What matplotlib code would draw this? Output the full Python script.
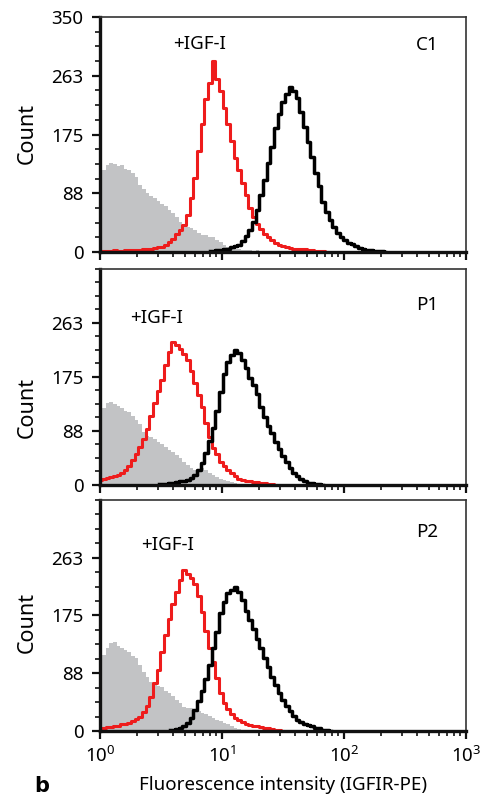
import numpy as np
import matplotlib
matplotlib.use("Agg")
import matplotlib.pyplot as plt
from matplotlib.ticker import FixedLocator, LogLocator, NullFormatter

plt.rcParams['font.family'] = ['Noto Sans', 'DejaVu Sans']

# histogram channels are spaced evenly on the log axis
STEP = 0.03  # decades per channel

# ---- C1 ----
c1_gray = [110, 122, 130, 133, 131, 128, 130, 124, 122, 118, 112, 100, 94, 88, 83, 80,
           76, 72, 68, 63, 58, 52, 44, 40, 37, 36, 33, 28, 26, 25, 23, 22, 18, 15, 10, 7,
           5, 4, 4, 3, 3, 3, 2, 3, 2, 1, 0]
c1_red = [2, 2, 2, 2, 3, 2, 2, 3, 3, 3, 3, 3, 4, 4, 5, 6, 7, 8, 11, 15, 20, 27, 33, 41,
          55, 80, 110, 150, 190, 228, 252, 285, 258, 240, 214, 190, 166, 140, 122, 103,
          85, 65, 52, 42, 34, 27, 22, 18, 14, 11, 9, 7, 6, 5, 5, 4, 4, 3, 3, 2, 2, 1, 0]
c1_black_start = 30
c1_black = [1, 2, 3, 3, 4, 5, 7, 9, 11, 16, 24, 33, 45, 62, 85, 108, 132, 157, 185, 205,
            224, 236, 246, 240, 230, 208, 186, 164, 142, 118, 98, 74, 60, 47, 38, 29, 22,
            18, 14, 12, 9, 6, 5, 3, 3, 2, 2, 1, 0]

# ---- P1 ----
p1_gray = [115, 125, 133, 135, 131, 128, 124, 120, 118, 112, 106, 98, 86, 80, 77, 74,
           70, 66, 62, 57, 53, 48, 43, 38, 33, 27, 24, 25, 27, 25, 20, 16, 13, 10, 8, 6,
           5, 3, 2, 2, 1, 0]
p1_red = [8, 10, 11, 13, 15, 16, 20, 25, 30, 40, 50, 62, 75, 90, 112, 133, 152, 170, 195,
          215, 232, 226, 220, 212, 203, 185, 165, 145, 126, 100, 78, 60, 50, 38, 30, 24,
          19, 14, 10, 8, 7, 6, 5, 5, 4, 3, 2, 1, 0]
p1_black_start = 16
p1_black = [1, 2, 2, 3, 4, 5, 6, 7, 8, 12, 16, 24, 36, 52, 72, 92, 120, 150, 180, 200,
            211, 219, 214, 203, 190, 174, 162, 147, 126, 110, 96, 84, 70, 58, 47, 37, 27,
            20, 14, 9, 6, 4, 3, 2, 1, 0]

# ---- P2 ----
p2_gray = [105, 115, 126, 133, 135, 128, 125, 122, 120, 114, 110, 100, 90, 82, 74, 69,
           68, 66, 61, 57, 53, 47, 42, 37, 35, 35, 34, 30, 27, 26, 23, 20, 17, 15, 12, 10,
           8, 5, 3, 2, 1, 0]
p2_red = [4, 5, 6, 6, 7, 8, 10, 11, 12, 15, 18, 21, 28, 38, 52, 72, 92, 120, 146, 170,
          192, 210, 228, 244, 238, 232, 222, 205, 180, 152, 126, 104, 80, 58, 43, 33, 25,
          20, 16, 13, 11, 9, 8, 7, 6, 5, 4, 3, 2, 1, 0]
p2_black_start = 19
p2_black = [1, 2, 3, 5, 8, 12, 20, 32, 46, 60, 78, 100, 125, 150, 178, 196, 209, 214, 218,
            210, 198, 182, 168, 155, 140, 125, 110, 97, 82, 70, 58, 47, 38, 30, 22, 17, 14,
            11, 9, 7, 5, 4, 2, 1, 0]

panel_names = ["C1", "P1", "P2"]
gray_sets = [c1_gray, p1_gray, p2_gray]
red_sets = [c1_red, p1_red, p2_red]
black_sets = [c1_black, p1_black, p2_black]
black_starts = [c1_black_start, p1_black_start, p2_black_start]

y_ticks = [0, 87.5, 175, 262.5, 350]
y_ticklabels = ["0", "88", "175", "263", "350"]

# label positions (data coords) per panel
igf_pos = [(6.5, 310), (2.93, 271), (3.6, 282)]
name_pos = [(479, 308), (479, 292), (479, 301)]
count_y = [0.506, 0.36, 0.47]

# axes boxes in figure fractions (left, bottom, width, height)
boxes = [(0.2062, 0.6873, 0.7546, 0.2916),
         (0.2062, 0.3983, 0.7546, 0.2680),
         (0.2062, 0.0931, 0.7546, 0.2866)]

FS = 13.5


def channels(start, n):
    return 10 ** (STEP * (start + np.arange(n)))


fig = plt.figure(figsize=(4.85, 8.06), dpi=100)

for i in range(3):
    ax = fig.add_axes(boxes[i])
    g = np.array(gray_sets[i], dtype=float)
    xg = channels(0, len(g))
    ax.fill_between(xg, g, step='mid', color='#c2c3c5', lw=0)

    r = np.array(red_sets[i], dtype=float)
    ax.step(channels(0, len(r)), r, where='mid', color='#ee1c1c', lw=2.2)

    b = np.array(black_sets[i], dtype=float)
    ax.step(channels(black_starts[i], len(b)), b, where='mid', color='black', lw=2.5)

    ax.set_xscale('log')
    ax.set_xlim(1, 1000)
    ax.set_ylim(0, 350)

    if i == 0:
        ax.yaxis.set_major_locator(FixedLocator(y_ticks))
        ax.set_yticklabels(y_ticklabels)
    else:
        ax.yaxis.set_major_locator(FixedLocator(y_ticks[:-1]))
        ax.set_yticklabels(y_ticklabels[:-1])
    ax.yaxis.set_minor_locator(FixedLocator(np.arange(0, 351, 350 / 16)))

    ax.xaxis.set_major_locator(LogLocator(base=10, numticks=10))
    ax.xaxis.set_minor_locator(LogLocator(base=10, subs=np.arange(2, 10), numticks=20))
    ax.xaxis.set_minor_formatter(NullFormatter())
    if i < 2:
        ax.xaxis.set_major_formatter(NullFormatter())

    ax.tick_params(axis='both', which='major', direction='out', length=6, width=1.6,
                   labelsize=FS, pad=5, color='#111')
    ax.tick_params(axis='both', which='minor', direction='out', length=3.5, width=1.2,
                   color='#111')
    ax.tick_params(axis='y', which='major', pad=6)

    for side in ['top', 'right']:
        ax.spines[side].set_linewidth(1.2)
        ax.spines[side].set_color('#333')
    for side in ['left', 'bottom']:
        ax.spines[side].set_linewidth(2.4)
        ax.spines[side].set_color('#111')

    ax.text(igf_pos[i][0], igf_pos[i][1], "+IGF-I", ha='center', va='center', fontsize=FS)
    ax.text(name_pos[i][0], name_pos[i][1], panel_names[i], ha='center', va='center',
            fontsize=FS)
    ax.text(-0.2, count_y[i], "Count", rotation=90, ha='center', va='center',
            fontsize=15.5, transform=ax.transAxes)

    if i == 2:
        ax.set_xlabel("Fluorescence intensity (IGFIR-PE)", fontsize=FS, labelpad=7)

fig.text(42 / 485, 1 - 786 / 806, "b", fontsize=15, fontweight='bold', ha='center',
         va='center', family=['DejaVu Sans'])

fig.savefig("out.png", dpi=100)
